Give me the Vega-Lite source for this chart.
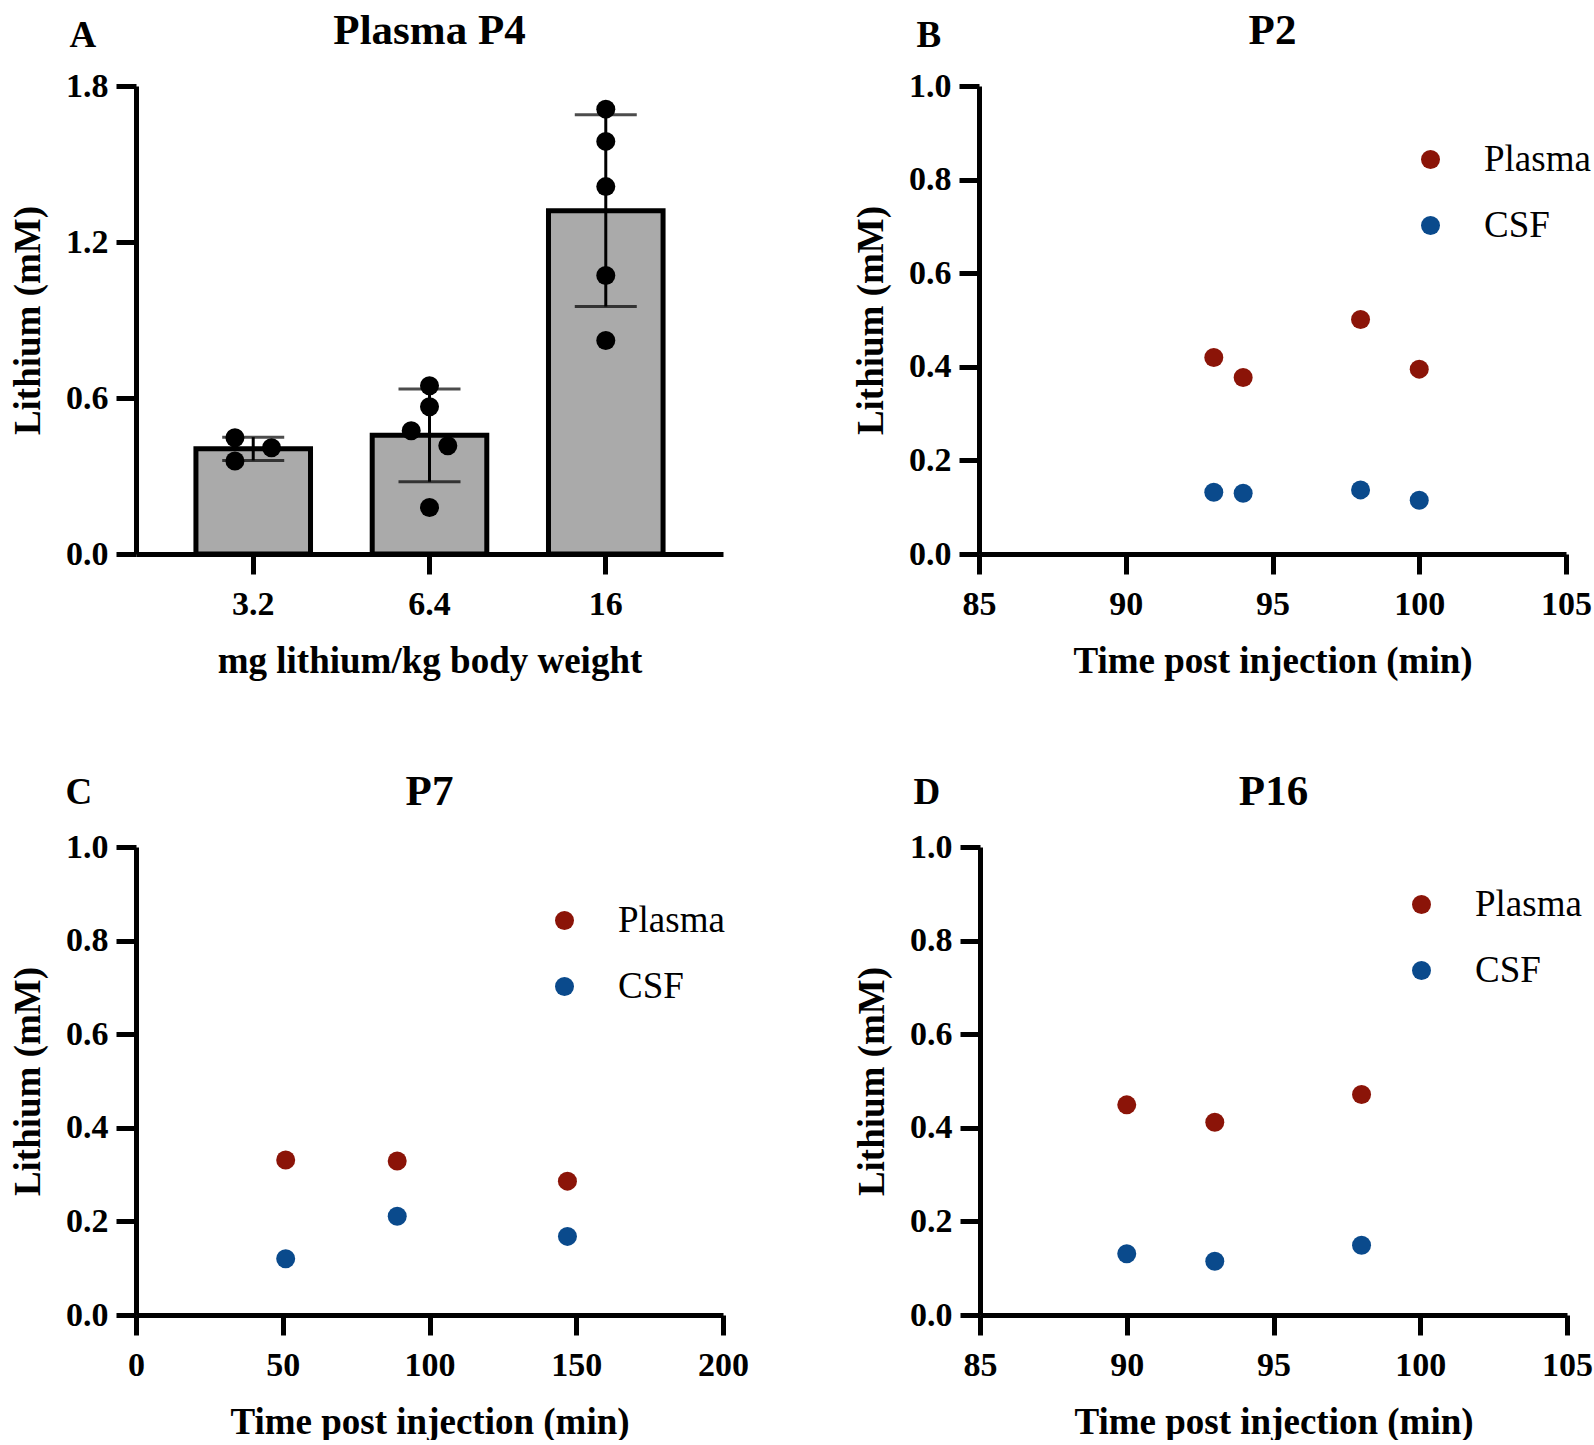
{
  "$schema": "https://vega.github.io/schema/vega-lite/v6.json",
  "background": "white",
  "padding": {"left": 9, "top": 10, "right": 0, "bottom": 0},
  "config": {
    "view": {"stroke": null},
    "font": "Liberation Serif",
    "axis": {
      "domainColor": "black", "domainWidth": 5, "tickColor": "black", "tickWidth": 5, "tickSize": 20,
      "grid": false, "labelFont": "Liberation Serif", "labelFontWeight": "bold", "labelFontSize": 34,
      "labelColor": "black", "labelPadding": 8, "labelFlush": false, "labelOverlap": false,
      "titleFont": "Liberation Serif", "titleFontWeight": "bold", "titleFontSize": 37, "titleColor": "black",
      "titlePadding": 18
    },
    "axisX": {"labelPadding": 13, "titlePadding": 22},
    "title": {"font": "Liberation Serif", "fontSize": 43, "fontWeight": "bold", "color": "black", "offset": 16},
    "legend": {
      "orient": "none", "title": null, "labelFont": "Liberation Serif", "labelFontSize": 37, "labelColor": "black",
      "symbolType": "circle", "symbolSize": 361, "symbolStrokeWidth": 0, "symbolOpacity": 1,
      "labelOffset": 35, "rowPadding": 28, "padding": 0
    }
  },
  "resolve": {"scale": {"color": "independent"}, "legend": {"color": "independent"}},
  "spacing": 92,
  "vconcat": [
    {
      "spacing": 129,
      "resolve": {"scale": {"color": "independent"}, "legend": {"color": "independent"}},
      "hconcat": [
        {
          "title": {"text": "A", "anchor": "start", "fontSize": 37, "dx": 60, "dy": 61},
          "vconcat": [
            {
              "title": "Plasma P4",
              "width": 587, "height": 468,
              "data": {"values": [
                {"dose": "3.2", "value": 0.447, "col": "L"},
                {"dose": "3.2", "value": 0.358, "col": "L"},
                {"dose": "3.2", "value": 0.409, "col": "R"},
                {"dose": "6.4", "value": 0.647, "col": "C"},
                {"dose": "6.4", "value": 0.566, "col": "C"},
                {"dose": "6.4", "value": 0.474, "col": "L"},
                {"dose": "6.4", "value": 0.416, "col": "R"},
                {"dose": "6.4", "value": 0.179, "col": "C"},
                {"dose": "16", "value": 1.711, "col": "C"},
                {"dose": "16", "value": 1.587, "col": "C"},
                {"dose": "16", "value": 1.413, "col": "C"},
                {"dose": "16", "value": 1.071, "col": "C"},
                {"dose": "16", "value": 0.821, "col": "C"}
              ]},
              "encoding": {
                "x": {"field": "dose", "type": "nominal", "sort": ["3.2", "6.4", "16"],
                      "scale": {"paddingInner": 0.35, "paddingOuter": 0.34},
                      "axis": {"title": "mg lithium/kg body weight", "labelAngle": 0}}
              },
              "resolve": {"scale": {"xOffset": "independent"}},
              "layer": [
                {
                  "mark": {"type": "bar", "fill": "#aaaaaa", "stroke": "black", "strokeWidth": 5},
                  "encoding": {
                    "y": {"aggregate": "mean", "field": "value", "type": "quantitative", "title": "Lithium (mM)",
                          "scale": {"domain": [0, 1.8], "nice": false},
                          "axis": {"values": [0, 0.6, 1.2, 1.8], "format": ".1f"}}
                  }
                },
                {
                  "mark": {"type": "errorbar", "extent": "stdev", "color": "black",
                           "rule": {"strokeWidth": 3}, "ticks": {"size": 62, "thickness": 3}},
                  "encoding": {
                    "y": {"field": "value", "type": "quantitative", "title": "Lithium (mM)"}
                  }
                },
                {
                  "mark": {"type": "point", "filled": true, "shape": "circle", "size": 361, "color": "black", "opacity": 1},
                  "encoding": {
                    "y": {"field": "value", "type": "quantitative", "title": "Lithium (mM)"},
                    "xOffset": {"field": "col", "type": "nominal", "scale": {"type": "point", "domain": ["L", "C", "R"], "padding": 0, "range": [39, 75.6]}}
                  }
                }
              ]
            }
          ]
        },
        {
          "title": {"text": "B", "anchor": "start", "fontSize": 37, "dx": 64, "dy": 61},
          "vconcat": [
            {
              "title": "P2",
              "width": 587, "height": 468,
              "data": {"values": [
                {"time": 93, "value": 0.420, "sample": "Plasma"},
                {"time": 94, "value": 0.377, "sample": "Plasma"},
                {"time": 98, "value": 0.501, "sample": "Plasma"},
                {"time": 100, "value": 0.395, "sample": "Plasma"},
                {"time": 93, "value": 0.132, "sample": "CSF"},
                {"time": 94, "value": 0.130, "sample": "CSF"},
                {"time": 98, "value": 0.137, "sample": "CSF"},
                {"time": 100, "value": 0.115, "sample": "CSF"}
              ]},
              "mark": {"type": "circle", "size": 361, "opacity": 1},
              "encoding": {
                "x": {"field": "time", "type": "quantitative", "title": "Time post injection (min)",
                      "scale": {"domain": [85, 105], "nice": false, "zero": false},
                      "axis": {"values": [85, 90, 95, 100, 105]}},
                "y": {"field": "value", "type": "quantitative", "title": "Lithium (mM)",
                      "scale": {"domain": [0, 1], "nice": false},
                      "axis": {"values": [0, 0.2, 0.4, 0.6, 0.8, 1.0], "format": ".1f"}},
                "color": {"field": "sample", "type": "nominal",
                          "scale": {"domain": ["Plasma", "CSF"], "range": ["#8b1408", "#0a4a8c"]},
                          "legend": {"legendX": 433, "legendY": 55}}
              }
            }
          ]
        }
      ]
    },
    {
      "spacing": 104,
      "resolve": {"scale": {"color": "independent"}, "legend": {"color": "independent"}},
      "hconcat": [
        {
          "title": {"text": "C", "anchor": "start", "fontSize": 37, "dx": 56, "dy": 57},
          "vconcat": [
            {
              "title": "P7",
              "width": 587, "height": 468,
              "data": {"values": [
                {"time": 51, "value": 0.331, "sample": "Plasma"},
                {"time": 89, "value": 0.329, "sample": "Plasma"},
                {"time": 147, "value": 0.286, "sample": "Plasma"},
                {"time": 51, "value": 0.120, "sample": "CSF"},
                {"time": 89, "value": 0.211, "sample": "CSF"},
                {"time": 147, "value": 0.168, "sample": "CSF"}
              ]},
              "mark": {"type": "circle", "size": 361, "opacity": 1},
              "encoding": {
                "x": {"field": "time", "type": "quantitative", "title": "Time post injection (min)",
                      "scale": {"domain": [0, 200], "nice": false},
                      "axis": {"values": [0, 50, 100, 150, 200]}},
                "y": {"field": "value", "type": "quantitative", "title": "Lithium (mM)",
                      "scale": {"domain": [0, 1], "nice": false},
                      "axis": {"values": [0, 0.2, 0.4, 0.6, 0.8, 1.0], "format": ".1f"}},
                "color": {"field": "sample", "type": "nominal",
                          "scale": {"domain": ["Plasma", "CSF"], "range": ["#8b1408", "#0a4a8c"]},
                          "legend": {"legendX": 410, "legendY": 55}}
              }
            }
          ]
        },
        {
          "title": {"text": "D", "anchor": "start", "fontSize": 37, "dx": 60, "dy": 57},
          "vconcat": [
            {
              "title": "P16",
              "width": 587, "height": 468,
              "data": {"values": [
                {"time": 90, "value": 0.449, "sample": "Plasma"},
                {"time": 93, "value": 0.412, "sample": "Plasma"},
                {"time": 98, "value": 0.471, "sample": "Plasma"},
                {"time": 90, "value": 0.131, "sample": "CSF"},
                {"time": 93, "value": 0.115, "sample": "CSF"},
                {"time": 98, "value": 0.149, "sample": "CSF"}
              ]},
              "mark": {"type": "circle", "size": 361, "opacity": 1},
              "encoding": {
                "x": {"field": "time", "type": "quantitative", "title": "Time post injection (min)",
                      "scale": {"domain": [85, 105], "nice": false, "zero": false},
                      "axis": {"values": [85, 90, 95, 100, 105]}},
                "y": {"field": "value", "type": "quantitative", "title": "Lithium (mM)",
                      "scale": {"domain": [0, 1], "nice": false},
                      "axis": {"values": [0, 0.2, 0.4, 0.6, 0.8, 1.0], "format": ".1f"}},
                "color": {"field": "sample", "type": "nominal",
                          "scale": {"domain": ["Plasma", "CSF"], "range": ["#8b1408", "#0a4a8c"]},
                          "legend": {"legendX": 423, "legendY": 39}}
              }
            }
          ]
        }
      ]
    }
  ]
}
